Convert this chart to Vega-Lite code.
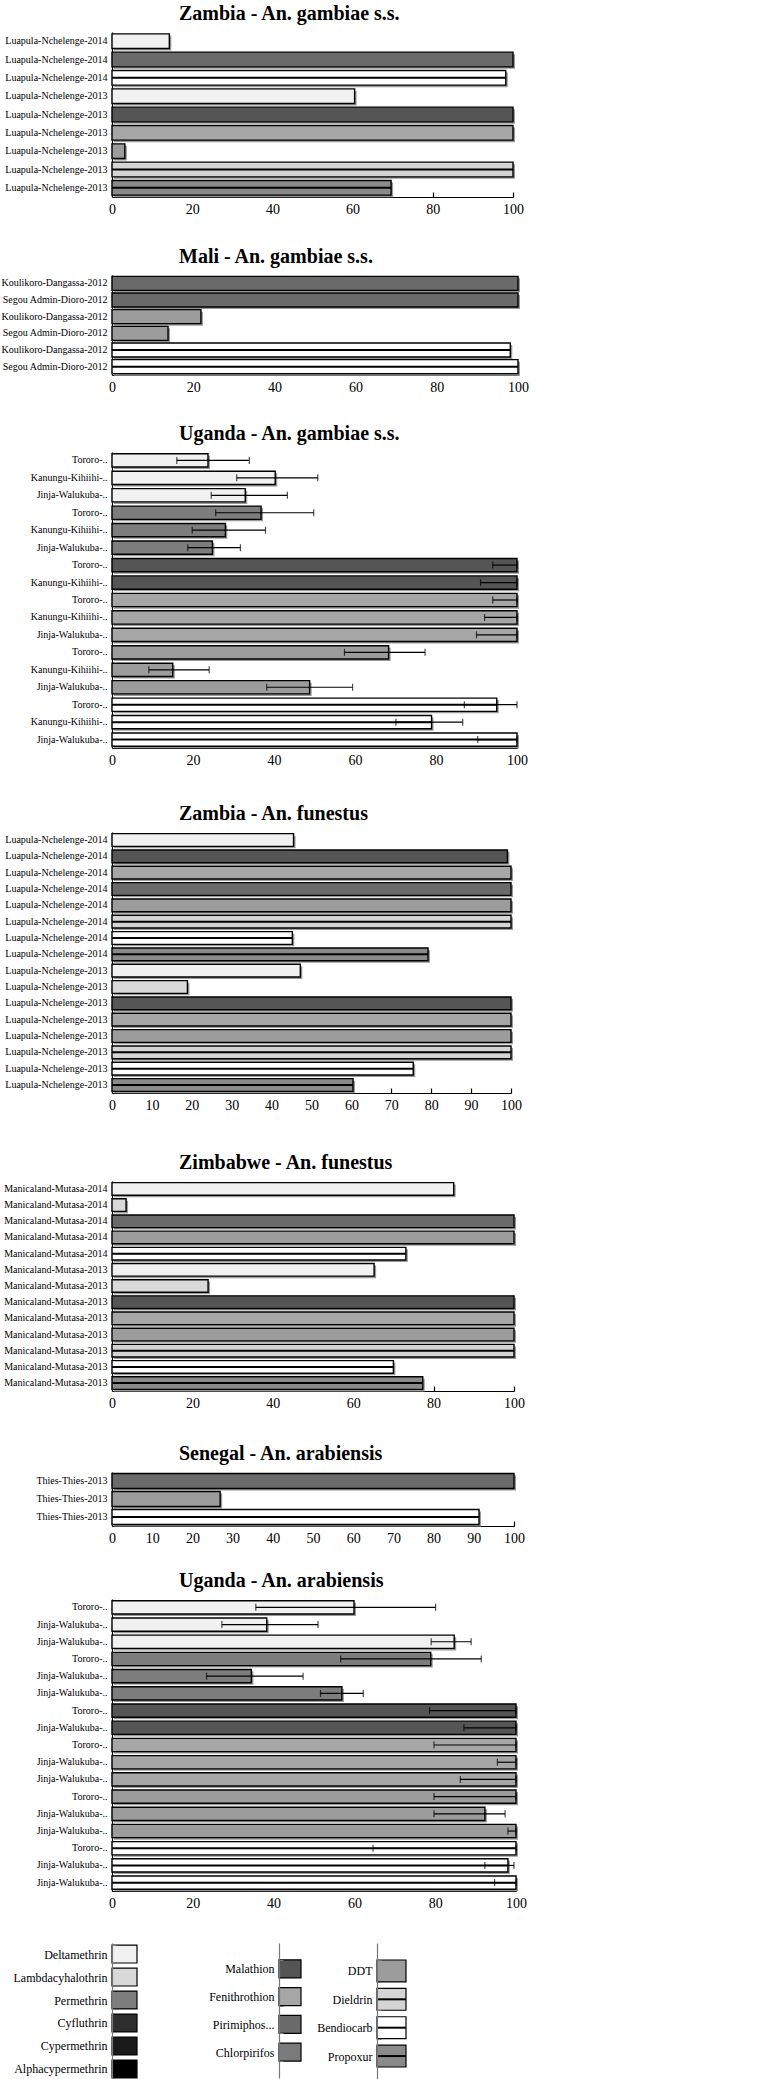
{
"$schema":"https://vega.github.io/schema/vega-lite/v6.json",
"padding":{"top":4,"left":0,"right":0,"bottom":0},
"background":"white",
"config":{
 "view":{"stroke":null},
 "axis":{"domainColor":"#000","tickColor":"#000","labelColor":"#000","grid":false,"labelFont":"Liberation Serif"},
 "axisX":{"labelFontSize":14,"tickSize":-5,"labelPadding":10,"domainWidth":1.2,"tickWidth":1.2,"labelFlush":false},
 "axisY":{"ticks":false,"labelFontSize":10,"labelPadding":5,"domainWidth":1.2,"minExtent":108,"maxExtent":108},
 "title":{"font":"Liberation Sans Narrow","fontSize":20,"fontWeight":"bold","anchor":"start","frame":"group","offset":8,"color":"#000","dx":67},
 "range":{"category":["#f1f1f1","#d9d9d9","#7d7d7d","#2e2e2e","#1a1a1a","#000000","#555555","#a6a6a6","#6a6a6a","#7a7a7a","#9c9c9c","#d4d4d4","#ffffff","#8a8a8a"]}
},
"columns":1,"align":"none","spacing":31,
"concat":[
 {
  "title":{"text":"Zambia - An. gambiae s.s."},
  "width":401,"height":165,
  "data":{"values":[
   {"k":"Luapula-Nchelenge-2014#1","ins":"Deltamethrin","v":14.3},
   {"k":"Luapula-Nchelenge-2014#2","ins":"Pirimiphos...","v":100},
   {"k":"Luapula-Nchelenge-2014#3","ins":"Bendiocarb","v":98.2},
   {"k":"Luapula-Nchelenge-2013#4","ins":"Deltamethrin","v":60.5},
   {"k":"Luapula-Nchelenge-2013#5","ins":"Malathion","v":100},
   {"k":"Luapula-Nchelenge-2013#6","ins":"Fenithrothion","v":100},
   {"k":"Luapula-Nchelenge-2013#7","ins":"DDT","v":3.2},
   {"k":"Luapula-Nchelenge-2013#8","ins":"Dieldrin","v":100},
   {"k":"Luapula-Nchelenge-2013#9","ins":"Propoxur","v":69.6}
  ]},
  "encoding":{
   "y":{"field":"k","type":"nominal","sort":null,"scale":{"paddingInner":0.2,"paddingOuter":0.1},"axis":{"title":null,"labelExpr":"split(datum.label,'#')[0]"}},
   "x":{"field":"v","type":"quantitative","scale":{"domain":[0,100]},"axis":{"title":null,"values":[0,20,40,60,80,100]}}
  },
  "layer":[
   {"mark":{"type":"bar","color":"#9a9a9a","xOffset":2,"yOffset":2}},
   {"mark":{"type":"bar","stroke":"#000","strokeWidth":1.4},"encoding":{"fill":{"field":"ins","type":"nominal","legend":null,"scale":{"domain":["Deltamethrin","Lambdacyhalothrin","Permethrin","Cyfluthrin","Cypermethrin","Alphacypermethrin","Malathion","Fenithrothion","Pirimiphos...","Chlorpirifos","DDT","Dieldrin","Bendiocarb","Propoxur"]}}}},
   {"transform":[{"filter":"indexof(['Bendiocarb','Propoxur','Dieldrin'],datum.ins)>=0"}],"mark":{"type":"rule","color":"#000","strokeWidth":2},"encoding":{"x2":{"datum":0}}}
  ]
 },
 {"columns":1,"align":"none","spacing":30,"concat":[
  {
   "title":{"text":"Mali - An. gambiae s.s."},
   "width":406,"height":100,
   "data":{"values":[
    {"k":"Koulikoro-Dangassa-2012#1","ins":"Pirimiphos...","v":100},
    {"k":"Segou Admin-Dioro-2012#2","ins":"Pirimiphos...","v":100},
    {"k":"Koulikoro-Dangassa-2012#3","ins":"DDT","v":21.9},
    {"k":"Segou Admin-Dioro-2012#4","ins":"DDT","v":13.8},
    {"k":"Koulikoro-Dangassa-2012#5","ins":"Bendiocarb","v":98.1},
    {"k":"Segou Admin-Dioro-2012#6","ins":"Bendiocarb","v":100}
   ]},
   "encoding":{
    "y":{"field":"k","type":"nominal","sort":null,"scale":{"paddingInner":0.16,"paddingOuter":0.08},"axis":{"title":null,"labelExpr":"split(datum.label,'#')[0]"}},
    "x":{"field":"v","type":"quantitative","scale":{"domain":[0,100]},"axis":{"title":null,"values":[0,20,40,60,80,100]}}
   },
   "layer":[
    {"mark":{"type":"bar","color":"#9a9a9a","xOffset":2,"yOffset":2}},
    {"mark":{"type":"bar","stroke":"#000","strokeWidth":1.4},"encoding":{"fill":{"field":"ins","type":"nominal","legend":null,"scale":{"domain":["Deltamethrin","Lambdacyhalothrin","Permethrin","Cyfluthrin","Cypermethrin","Alphacypermethrin","Malathion","Fenithrothion","Pirimiphos...","Chlorpirifos","DDT","Dieldrin","Bendiocarb","Propoxur"]}}}},
    {"transform":[{"filter":"indexof(['Bendiocarb','Propoxur','Dieldrin'],datum.ins)>=0"}],"mark":{"type":"rule","color":"#000","strokeWidth":2},"encoding":{"x2":{"datum":0}}}
   ]
  },
  {"columns":1,"align":"none","spacing":37,"concat":[
   {
    "title":{"text":"Uganda - An. gambiae s.s."},
    "width":405,"height":296,
    "data":{"values":[
     {"k":"Tororo-..#1","ins":"Deltamethrin","v":23.7,"lo":16,"hi":33.9},
     {"k":"Kanungu-Kihiihi-..#2","ins":"Deltamethrin","v":40.3,"lo":30.8,"hi":50.8},
     {"k":"Jinja-Walukuba-..#3","ins":"Deltamethrin","v":32.9,"lo":24.5,"hi":43.3},
     {"k":"Tororo-..#4","ins":"Permethrin","v":36.8,"lo":25.6,"hi":49.8},
     {"k":"Kanungu-Kihiihi-..#5","ins":"Permethrin","v":28,"lo":19.8,"hi":37.9},
     {"k":"Jinja-Walukuba-..#6","ins":"Permethrin","v":24.8,"lo":18.7,"hi":31.7},
     {"k":"Tororo-..#7","ins":"Malathion","v":100,"lo":94,"hi":100},
     {"k":"Kanungu-Kihiihi-..#8","ins":"Malathion","v":100,"lo":91,"hi":100},
     {"k":"Tororo-..#9","ins":"Fenithrothion","v":100,"lo":94,"hi":100},
     {"k":"Kanungu-Kihiihi-..#10","ins":"Fenithrothion","v":100,"lo":92,"hi":100},
     {"k":"Jinja-Walukuba-..#11","ins":"Fenithrothion","v":100,"lo":90,"hi":100},
     {"k":"Tororo-..#12","ins":"DDT","v":68.3,"lo":57.4,"hi":77.3},
     {"k":"Kanungu-Kihiihi-..#13","ins":"DDT","v":15,"lo":9.1,"hi":24},
     {"k":"Jinja-Walukuba-..#14","ins":"DDT","v":48.8,"lo":38.2,"hi":59.4},
     {"k":"Tororo-..#15","ins":"Bendiocarb","v":95,"lo":87,"hi":100},
     {"k":"Kanungu-Kihiihi-..#16","ins":"Bendiocarb","v":78.9,"lo":70.1,"hi":86.6},
     {"k":"Jinja-Walukuba-..#17","ins":"Bendiocarb","v":100,"lo":90.3,"hi":100}
    ]},
    "encoding":{
     "y":{"field":"k","type":"nominal","sort":null,"scale":{"paddingInner":0.24,"paddingOuter":0.1},"axis":{"title":null,"labelExpr":"split(datum.label,'#')[0]"}},
     "x":{"field":"v","type":"quantitative","scale":{"domain":[0,100]},"axis":{"title":null,"values":[0,20,40,60,80,100]}}
    },
    "layer":[
     {"mark":{"type":"bar","color":"#9a9a9a","xOffset":2,"yOffset":2}},
     {"mark":{"type":"bar","stroke":"#000","strokeWidth":1.4},"encoding":{"fill":{"field":"ins","type":"nominal","legend":null,"scale":{"domain":["Deltamethrin","Lambdacyhalothrin","Permethrin","Cyfluthrin","Cypermethrin","Alphacypermethrin","Malathion","Fenithrothion","Pirimiphos...","Chlorpirifos","DDT","Dieldrin","Bendiocarb","Propoxur"]}}}},
     {"transform":[{"filter":"indexof(['Bendiocarb','Propoxur','Dieldrin'],datum.ins)>=0"}],"mark":{"type":"rule","color":"#000","strokeWidth":2},"encoding":{"x2":{"datum":0}}},
     {"mark":{"type":"rule","color":"#000","strokeWidth":1.2},"encoding":{"x":{"field":"lo","type":"quantitative"},"x2":{"field":"hi"}}},
     {"mark":{"type":"tick","color":"#000","thickness":1.2,"size":7},"encoding":{"x":{"field":"lo","type":"quantitative"}}},
     {"mark":{"type":"tick","color":"#000","thickness":1.2,"size":7},"encoding":{"x":{"field":"hi","type":"quantitative"}}}
    ]
   },
   {"columns":1,"align":"none","spacing":41,"concat":[
    {
     "title":{"text":"Zambia - An. funestus"},
     "width":399,"height":261,
     "data":{"values":[
      {"k":"Luapula-Nchelenge-2014#1","ins":"Deltamethrin","v":45.5},
      {"k":"Luapula-Nchelenge-2014#2","ins":"Malathion","v":99.1},
      {"k":"Luapula-Nchelenge-2014#3","ins":"Fenithrothion","v":100},
      {"k":"Luapula-Nchelenge-2014#4","ins":"Pirimiphos...","v":100},
      {"k":"Luapula-Nchelenge-2014#5","ins":"DDT","v":100},
      {"k":"Luapula-Nchelenge-2014#6","ins":"Dieldrin","v":100},
      {"k":"Luapula-Nchelenge-2014#7","ins":"Bendiocarb","v":45.2},
      {"k":"Luapula-Nchelenge-2014#8","ins":"Propoxur","v":79.2},
      {"k":"Luapula-Nchelenge-2013#9","ins":"Deltamethrin","v":47.2},
      {"k":"Luapula-Nchelenge-2013#10","ins":"Lambdacyhalothrin","v":18.9},
      {"k":"Luapula-Nchelenge-2013#11","ins":"Malathion","v":100},
      {"k":"Luapula-Nchelenge-2013#12","ins":"Fenithrothion","v":100},
      {"k":"Luapula-Nchelenge-2013#13","ins":"DDT","v":100},
      {"k":"Luapula-Nchelenge-2013#14","ins":"Dieldrin","v":100},
      {"k":"Luapula-Nchelenge-2013#15","ins":"Bendiocarb","v":75.5},
      {"k":"Luapula-Nchelenge-2013#16","ins":"Propoxur","v":60.4}
     ]},
     "encoding":{
      "y":{"field":"k","type":"nominal","sort":null,"scale":{"paddingInner":0.22,"paddingOuter":0.1},"axis":{"title":null,"labelExpr":"split(datum.label,'#')[0]"}},
      "x":{"field":"v","type":"quantitative","scale":{"domain":[0,100]},"axis":{"title":null,"values":[0,10,20,30,40,50,60,70,80,90,100]}}
     },
     "layer":[
      {"mark":{"type":"bar","color":"#9a9a9a","xOffset":2,"yOffset":2}},
      {"mark":{"type":"bar","stroke":"#000","strokeWidth":1.4},"encoding":{"fill":{"field":"ins","type":"nominal","legend":null,"scale":{"domain":["Deltamethrin","Lambdacyhalothrin","Permethrin","Cyfluthrin","Cypermethrin","Alphacypermethrin","Malathion","Fenithrothion","Pirimiphos...","Chlorpirifos","DDT","Dieldrin","Bendiocarb","Propoxur"]}}}},
      {"transform":[{"filter":"indexof(['Bendiocarb','Propoxur','Dieldrin'],datum.ins)>=0"}],"mark":{"type":"rule","color":"#000","strokeWidth":2},"encoding":{"x2":{"datum":0}}}
     ]
    },
    {"columns":1,"align":"none","spacing":34,"concat":[
     {
      "title":{"text":"Zimbabwe - An. funestus"},
      "width":402,"height":210,
      "data":{"values":[
       {"k":"Manicaland-Mutasa-2014#1","ins":"Deltamethrin","v":85},
       {"k":"Manicaland-Mutasa-2014#2","ins":"Lambdacyhalothrin","v":3.5},
       {"k":"Manicaland-Mutasa-2014#3","ins":"Pirimiphos...","v":100},
       {"k":"Manicaland-Mutasa-2014#4","ins":"DDT","v":100},
       {"k":"Manicaland-Mutasa-2014#5","ins":"Bendiocarb","v":73.1},
       {"k":"Manicaland-Mutasa-2013#6","ins":"Deltamethrin","v":65.2},
       {"k":"Manicaland-Mutasa-2013#7","ins":"Lambdacyhalothrin","v":23.9},
       {"k":"Manicaland-Mutasa-2013#8","ins":"Malathion","v":100},
       {"k":"Manicaland-Mutasa-2013#9","ins":"Fenithrothion","v":100},
       {"k":"Manicaland-Mutasa-2013#10","ins":"DDT","v":100},
       {"k":"Manicaland-Mutasa-2013#11","ins":"Dieldrin","v":100},
       {"k":"Manicaland-Mutasa-2013#12","ins":"Bendiocarb","v":70},
       {"k":"Manicaland-Mutasa-2013#13","ins":"Propoxur","v":77.3}
      ]},
      "encoding":{
       "y":{"field":"k","type":"nominal","sort":null,"scale":{"paddingInner":0.22,"paddingOuter":0.1},"axis":{"title":null,"labelExpr":"split(datum.label,'#')[0]"}},
       "x":{"field":"v","type":"quantitative","scale":{"domain":[0,100]},"axis":{"title":null,"values":[0,20,40,60,80,100]}}
      },
      "layer":[
       {"mark":{"type":"bar","color":"#9a9a9a","xOffset":2,"yOffset":2}},
       {"mark":{"type":"bar","stroke":"#000","strokeWidth":1.4},"encoding":{"fill":{"field":"ins","type":"nominal","legend":null,"scale":{"domain":["Deltamethrin","Lambdacyhalothrin","Permethrin","Cyfluthrin","Cypermethrin","Alphacypermethrin","Malathion","Fenithrothion","Pirimiphos...","Chlorpirifos","DDT","Dieldrin","Bendiocarb","Propoxur"]}}}},
       {"transform":[{"filter":"indexof(['Bendiocarb','Propoxur','Dieldrin'],datum.ins)>=0"}],"mark":{"type":"rule","color":"#000","strokeWidth":2},"encoding":{"x2":{"datum":0}}}
      ]
     },
     {"columns":1,"align":"none","spacing":26,"concat":[
      {
       "title":{"text":"Senegal - An. arabiensis"},
       "width":402,"height":54,
       "data":{"values":[
        {"k":"Thies-Thies-2013#1","ins":"Pirimiphos...","v":100},
        {"k":"Thies-Thies-2013#2","ins":"DDT","v":26.9},
        {"k":"Thies-Thies-2013#3","ins":"Bendiocarb","v":91.3}
       ]},
       "encoding":{
        "y":{"field":"k","type":"nominal","sort":null,"scale":{"paddingInner":0.17,"paddingOuter":0.08},"axis":{"title":null,"labelExpr":"split(datum.label,'#')[0]"}},
        "x":{"field":"v","type":"quantitative","scale":{"domain":[0,100]},"axis":{"title":null,"values":[0,10,20,30,40,50,60,70,80,90,100]}}
       },
       "layer":[
        {"mark":{"type":"bar","color":"#9a9a9a","xOffset":2,"yOffset":2}},
        {"mark":{"type":"bar","stroke":"#000","strokeWidth":1.4},"encoding":{"fill":{"field":"ins","type":"nominal","legend":null,"scale":{"domain":["Deltamethrin","Lambdacyhalothrin","Permethrin","Cyfluthrin","Cypermethrin","Alphacypermethrin","Malathion","Fenithrothion","Pirimiphos...","Chlorpirifos","DDT","Dieldrin","Bendiocarb","Propoxur"]}}}},
        {"transform":[{"filter":"indexof(['Bendiocarb','Propoxur','Dieldrin'],datum.ins)>=0"}],"mark":{"type":"rule","color":"#000","strokeWidth":2},"encoding":{"x2":{"datum":0}}}
       ]
      },
      {"columns":1,"align":"none","spacing":27,"concat":[
       {
        "title":{"text":"Uganda - An. arabiensis"},
        "width":404,"height":292,
        "data":{"values":[
         {"k":"Tororo-..#1","ins":"Deltamethrin","v":59.9,"lo":35.6,"hi":80.1},
         {"k":"Jinja-Walukuba-..#2","ins":"Deltamethrin","v":38.3,"lo":27.2,"hi":51},
         {"k":"Jinja-Walukuba-..#3","ins":"Deltamethrin","v":84.7,"lo":79,"hi":88.9},
         {"k":"Tororo-..#4","ins":"Permethrin","v":78.9,"lo":56.6,"hi":91.4},
         {"k":"Jinja-Walukuba-..#5","ins":"Permethrin","v":34.5,"lo":23.4,"hi":47.3},
         {"k":"Jinja-Walukuba-..#6","ins":"Permethrin","v":56.9,"lo":51.6,"hi":62.2},
         {"k":"Tororo-..#7","ins":"Malathion","v":100,"lo":78.6,"hi":100},
         {"k":"Jinja-Walukuba-..#8","ins":"Malathion","v":100,"lo":87.1,"hi":100},
         {"k":"Tororo-..#9","ins":"Fenithrothion","v":100,"lo":79.7,"hi":100},
         {"k":"Jinja-Walukuba-..#10","ins":"Fenithrothion","v":100,"lo":95.4,"hi":100},
         {"k":"Jinja-Walukuba-..#11","ins":"Fenithrothion","v":100,"lo":86.2,"hi":100},
         {"k":"Tororo-..#12","ins":"DDT","v":100,"lo":79.7,"hi":100},
         {"k":"Jinja-Walukuba-..#13","ins":"DDT","v":92.3,"lo":79.7,"hi":97.3},
         {"k":"Jinja-Walukuba-..#14","ins":"DDT","v":100,"lo":98,"hi":100},
         {"k":"Tororo-..#15","ins":"Bendiocarb","v":100,"lo":64.6,"hi":100},
         {"k":"Jinja-Walukuba-..#16","ins":"Bendiocarb","v":98,"lo":92.3,"hi":99.5},
         {"k":"Jinja-Walukuba-..#17","ins":"Bendiocarb","v":100,"lo":94.7,"hi":100}
        ]},
        "encoding":{
         "y":{"field":"k","type":"nominal","sort":null,"scale":{"paddingInner":0.23,"paddingOuter":0.1},"axis":{"title":null,"labelExpr":"split(datum.label,'#')[0]"}},
         "x":{"field":"v","type":"quantitative","scale":{"domain":[0,100]},"axis":{"title":null,"values":[0,20,40,60,80,100]}}
        },
        "layer":[
         {"mark":{"type":"bar","color":"#9a9a9a","xOffset":2,"yOffset":2}},
         {"mark":{"type":"bar","stroke":"#000","strokeWidth":1.4},"encoding":{"fill":{"field":"ins","type":"nominal","legend":null,"scale":{"domain":["Deltamethrin","Lambdacyhalothrin","Permethrin","Cyfluthrin","Cypermethrin","Alphacypermethrin","Malathion","Fenithrothion","Pirimiphos...","Chlorpirifos","DDT","Dieldrin","Bendiocarb","Propoxur"]}}}},
         {"transform":[{"filter":"indexof(['Bendiocarb','Propoxur','Dieldrin'],datum.ins)>=0"}],"mark":{"type":"rule","color":"#000","strokeWidth":2},"encoding":{"x2":{"datum":0}}},
         {"mark":{"type":"rule","color":"#000","strokeWidth":1.2},"encoding":{"x":{"field":"lo","type":"quantitative"},"x2":{"field":"hi"}}},
         {"mark":{"type":"tick","color":"#000","thickness":1.2,"size":7},"encoding":{"x":{"field":"lo","type":"quantitative"}}},
         {"mark":{"type":"tick","color":"#000","thickness":1.2,"size":7},"encoding":{"x":{"field":"hi","type":"quantitative"}}}
        ]
       },
       {"spacing":8,"hconcat":[
        {
         "width":25,"height":137,
         "data":{"values":[{"ins":"Deltamethrin"},{"ins":"Lambdacyhalothrin"},{"ins":"Permethrin"},{"ins":"Cyfluthrin"},{"ins":"Cypermethrin"},{"ins":"Alphacypermethrin"}]},
         "mark":{"type":"rect","stroke":"#000","strokeWidth":1.2},
         "encoding":{
          "y":{"field":"ins","type":"nominal","sort":null,"scale":{"paddingInner":0.22,"paddingOuter":0.09},"axis":{"title":null,"labelFont":"Liberation Sans Narrow","labelFontSize":12,"labelPadding":9,"domainColor":"#777","ticks":true,"tickBand":"extent","tickSize":-4,"tickColor":"#777","minExtent":108,"maxExtent":108}},
          "fill":{"field":"ins","type":"nominal","legend":null,"scale":{"domain":["Deltamethrin","Lambdacyhalothrin","Permethrin","Cyfluthrin","Cypermethrin","Alphacypermethrin","Malathion","Fenithrothion","Pirimiphos...","Chlorpirifos","DDT","Dieldrin","Bendiocarb","Propoxur"]}}
         }
        },
        {
         "width":22,"height":135,
         "data":{"values":[{"ins":"Malathion"},{"ins":"Fenithrothion"},{"ins":"Pirimiphos..."},{"ins":"Chlorpirifos"}]},
         "mark":{"type":"rect","stroke":"#000","strokeWidth":1.2},
         "encoding":{
          "y":{"field":"ins","type":"nominal","sort":null,"scale":{"paddingInner":0.35,"paddingOuter":0.61},"axis":{"title":null,"labelFont":"Liberation Sans Narrow","labelFontSize":12,"labelPadding":9,"domainColor":"#777","ticks":true,"tickBand":"extent","tickSize":-4,"tickColor":"#777","minExtent":133,"maxExtent":133}},
          "fill":{"field":"ins","type":"nominal","legend":null,"scale":{"domain":["Deltamethrin","Lambdacyhalothrin","Permethrin","Cyfluthrin","Cypermethrin","Alphacypermethrin","Malathion","Fenithrothion","Pirimiphos...","Chlorpirifos","DDT","Dieldrin","Bendiocarb","Propoxur"]}}
         }
        },
        {
         "width":29,"height":141,
         "data":{"values":[{"ins":"DDT"},{"ins":"Dieldrin"},{"ins":"Bendiocarb"},{"ins":"Propoxur"}]},
         "encoding":{
          "y":{"field":"ins","type":"nominal","sort":null,"scale":{"paddingInner":0.23,"paddingOuter":0.6},"axis":{"title":null,"labelFont":"Liberation Sans Narrow","labelFontSize":12,"labelPadding":9,"domainColor":"#777","ticks":true,"tickBand":"extent","tickSize":-4,"tickColor":"#777","minExtent":67,"maxExtent":67}}
         },
         "layer":[
          {"mark":{"type":"rect","stroke":"#000","strokeWidth":1.2},"encoding":{"fill":{"field":"ins","type":"nominal","legend":null,"scale":{"domain":["Deltamethrin","Lambdacyhalothrin","Permethrin","Cyfluthrin","Cypermethrin","Alphacypermethrin","Malathion","Fenithrothion","Pirimiphos...","Chlorpirifos","DDT","Dieldrin","Bendiocarb","Propoxur"]}}}},
          {"transform":[{"filter":"indexof(['Bendiocarb','Propoxur','Dieldrin'],datum.ins)>=0"}],"mark":{"type":"rule","color":"#000","strokeWidth":2},"encoding":{}}
         ]
        }
       ]}
      ]}
     ]}
    ]}
   ]}
  ]}
 ]}
]
}
